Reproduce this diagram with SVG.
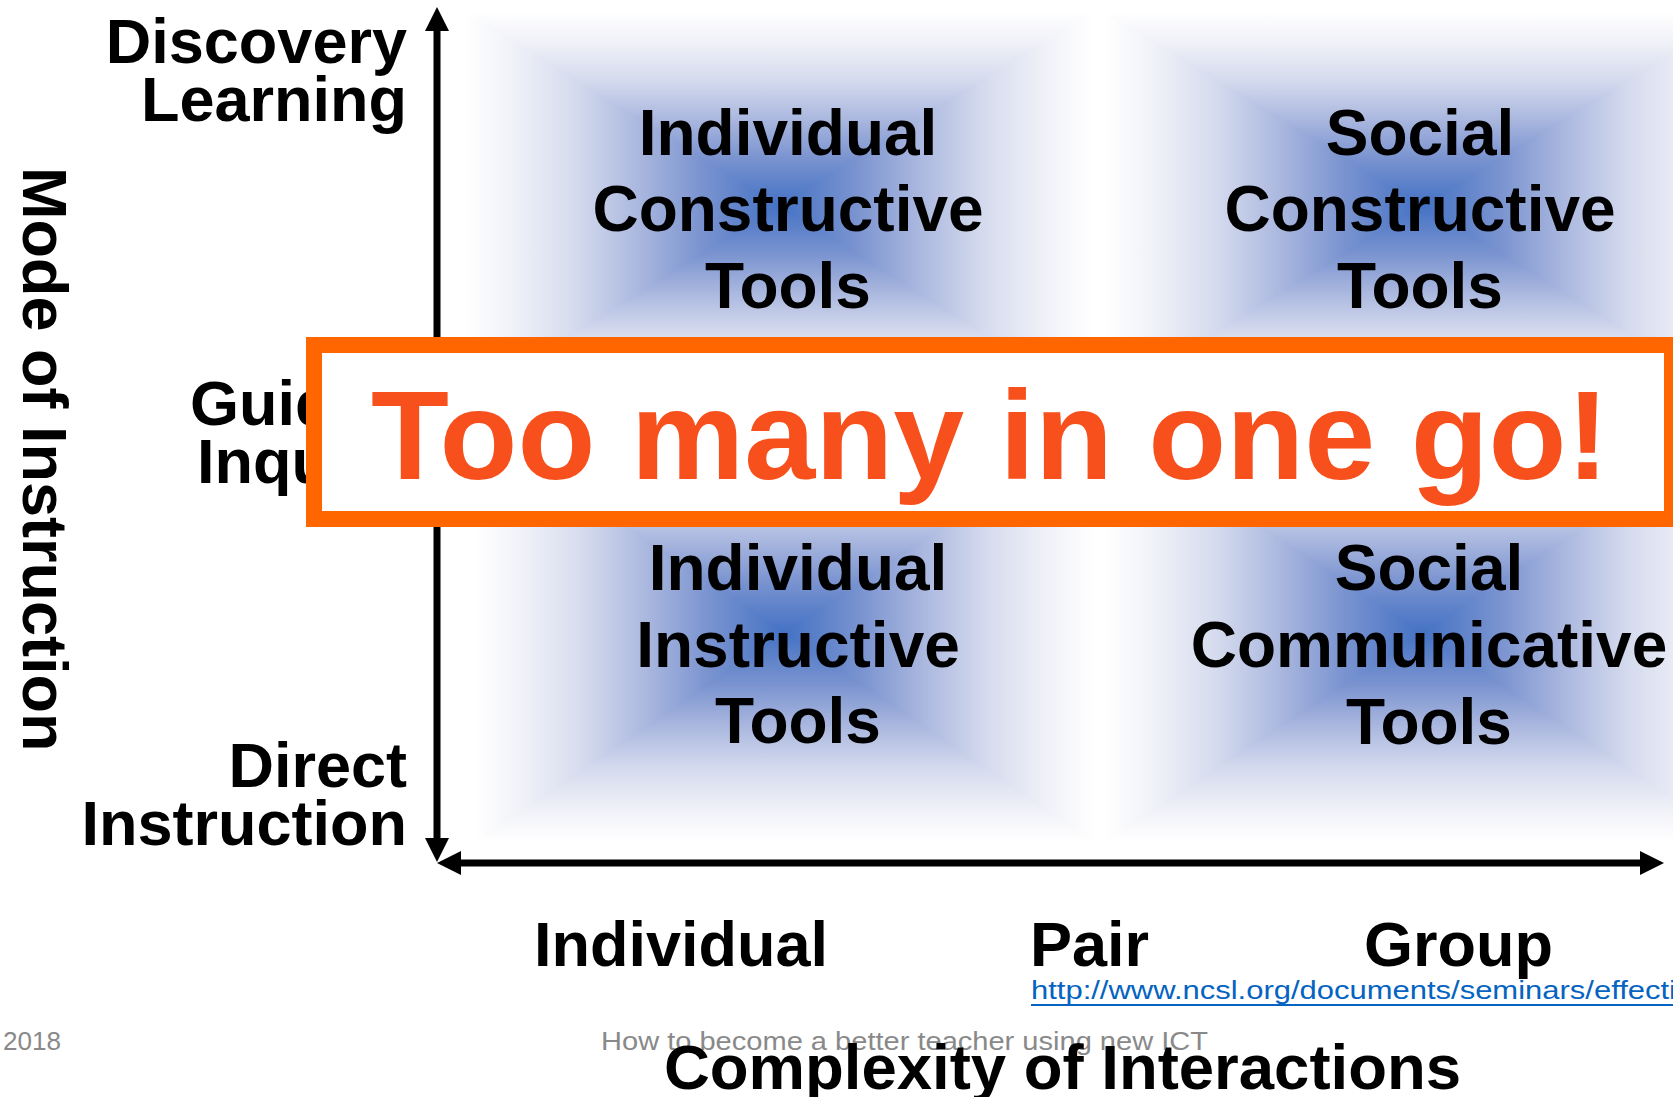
<svg xmlns="http://www.w3.org/2000/svg" width="1673" height="1097" viewBox="0 0 1673 1097">
<style>
.b{font-family:"Liberation Sans",Arial,sans-serif;font-weight:bold;fill:#000}
.q{font-size:64px;text-anchor:middle}
.ax{font-size:63px}
.r{text-anchor:end}
.f{font-family:"Liberation Sans",Arial,sans-serif;font-size:26px;fill:#898989}
.tri{shape-rendering:crispEdges}
</style>
<defs>
<linearGradient id="gT" x1="0" y1="0" x2="0" y2="1">
<stop offset="0" stop-color="#FFFFFF"/><stop offset="0.15" stop-color="#F1F2F8"/><stop offset="0.35" stop-color="#D5DBEE"/><stop offset="0.55" stop-color="#ABB8DF"/><stop offset="0.75" stop-color="#7B94D0"/><stop offset="1" stop-color="#4472C4"/>
</linearGradient>
<linearGradient id="gB" x1="0" y1="1" x2="0" y2="0" href="#gT"/>
<linearGradient id="gL" x1="0" y1="0" x2="1" y2="0" href="#gT"/>
<linearGradient id="gR" x1="1" y1="0" x2="0" y2="0" href="#gT"/>
<marker id="ah" viewBox="0 -12 24 24" markerWidth="24" markerHeight="24" refX="0" refY="0" markerUnits="userSpaceOnUse" orient="auto-start-reverse">
<path d="M0,-12 L24,0 L0,12 z" fill="#000"/>
</marker>
</defs>
<rect width="1673" height="1097" fill="#fff"/>

<g id="glows">
<g id="glow-tl" class="tri">
<polygon points="465,12 1093,12 779,206" fill="url(#gT)"/>
<polygon points="465,400 1093,400 779,206" fill="url(#gB)"/>
<polygon points="465,12 465,400 779,206" fill="url(#gL)"/>
<polygon points="1093,12 1093,400 779,206" fill="url(#gR)"/>
</g>
<g id="glow-tr" class="tri">
<polygon points="1105,12 1740,12 1422,206" fill="url(#gT)"/>
<polygon points="1105,400 1740,400 1422,206" fill="url(#gB)"/>
<polygon points="1105,12 1105,400 1422,206" fill="url(#gL)"/>
<polygon points="1740,12 1740,400 1422,206" fill="url(#gR)"/>
</g>
<g id="glow-bl" class="tri">
<polygon points="475,425 1095,425 785,633" fill="url(#gT)"/>
<polygon points="475,842 1095,842 785,633" fill="url(#gB)"/>
<polygon points="475,425 475,842 785,633" fill="url(#gL)"/>
<polygon points="1095,425 1095,842 785,633" fill="url(#gR)"/>
</g>
<g id="glow-br" class="tri">
<polygon points="1105,425 1740,425 1422,633" fill="url(#gT)"/>
<polygon points="1105,842 1740,842 1422,633" fill="url(#gB)"/>
<polygon points="1105,425 1105,842 1422,633" fill="url(#gL)"/>
<polygon points="1740,425 1740,842 1422,633" fill="url(#gR)"/>
</g>
</g>

<g id="q-individual-constructive" class="b q">
<text x="788" y="155">Individual</text>
<text x="788" y="231">Constructive</text>
<text x="788" y="308">Tools</text>
</g>
<g id="q-social-constructive" class="b q">
<text x="1420" y="155">Social</text>
<text x="1420" y="231">Constructive</text>
<text x="1420" y="308">Tools</text>
</g>
<g id="q-individual-instructive" class="b q">
<text x="798" y="590">Individual</text>
<text x="798" y="667">Instructive</text>
<text x="798" y="743">Tools</text>
</g>
<g id="q-social-communicative" class="b q">
<text x="1429" y="590">Social</text>
<text x="1429" y="667">Communicative</text>
<text x="1429" y="744">Tools</text>
</g>

<g id="y-labels" class="b ax r">
<text x="407" y="63">Discovery</text>
<text x="407" y="121">Learning</text>
<text x="407" y="425">Guided</text>
<text x="407" y="483">Inquiry</text>
<text x="407" y="787">Direct</text>
<text x="407" y="845">Instruction</text>
</g>
<g id="y-title" class="b ax">
<text transform="translate(23,167) rotate(90)">Mode of Instruction</text>
</g>

<g id="x-labels" class="b ax">
<text x="534" y="966">Individual</text>
<text x="1030" y="966">Pair</text>
<text x="1364" y="966">Group</text>
</g>

<g id="connectors" fill="none" stroke="#000" stroke-width="7">
<path d="M437,838 L437,31" marker-start="url(#ah)" marker-end="url(#ah)"/>
<path d="M461,863 L1640,863" marker-start="url(#ah)" marker-end="url(#ah)"/>
</g>

<g id="link">
<text x="1031" y="999" font-family="'Liberation Sans',Arial,sans-serif" font-size="26" fill="#0563C1" textLength="645" lengthAdjust="spacingAndGlyphs">http://www.ncsl.org/documents/seminars/effecti</text>
<line x1="1031" y1="1005" x2="1673" y2="1005" stroke="#0563C1" stroke-width="2"/>
</g>

<g id="footer">
<text class="f" x="3" y="1050" textLength="58" lengthAdjust="spacingAndGlyphs">2018</text>
<text class="f" x="601" y="1050" textLength="607" lengthAdjust="spacingAndGlyphs">How to become a better teacher using new ICT</text>
</g>

<g id="x-title" class="b ax">
<text x="664" y="1089" textLength="797" lengthAdjust="spacingAndGlyphs">Complexity of Interactions</text>
</g>

<g id="callout">
<rect x="314" y="345" width="1358" height="174" fill="#fff" stroke="#FF6600" stroke-width="16"/>
<text x="371" y="479" font-family="'Liberation Sans',Arial,sans-serif" font-weight="bold" font-size="127" fill="#F8501C" textLength="1238" lengthAdjust="spacingAndGlyphs">Too many in one go!</text>
</g>
</svg>
